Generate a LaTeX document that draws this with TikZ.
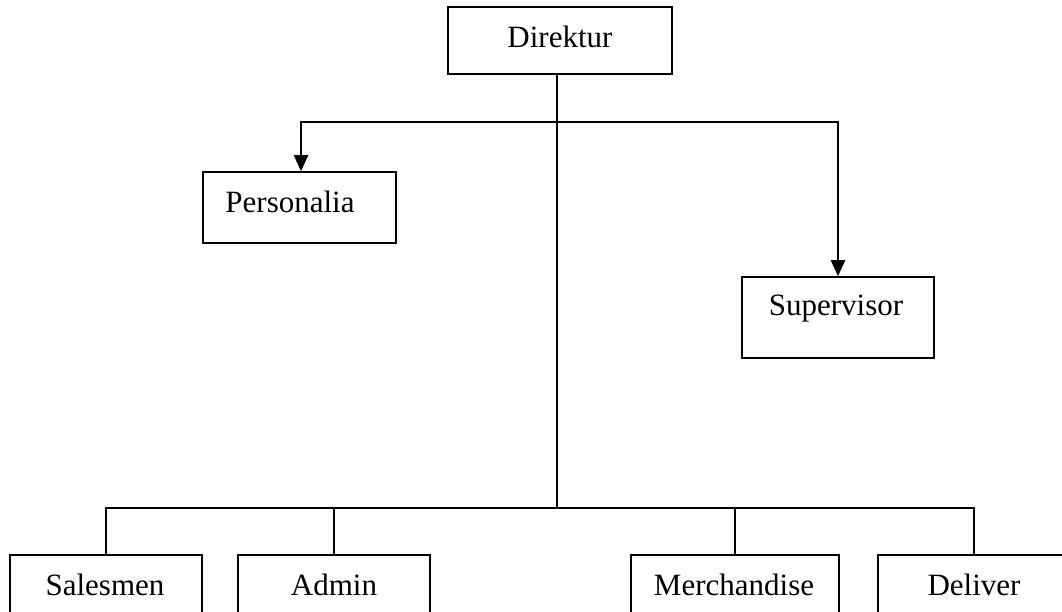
\documentclass[tikz,border=0pt]{standalone}
\usepackage{fontspec}
\setmainfont{Liberation Serif}
\usetikzlibrary{arrows.meta}
\begin{document}
\begin{tikzpicture}[x=1pt,y=-1pt,
  unit/.style={draw=black,line width=1.6pt,rectangle,inner sep=0pt},
  lbl/.style={anchor=base,inner sep=0pt,font=\fontsize{31}{37}\selectfont},
  conn/.style={line width=2.3pt,line cap=rect},
  arr/.style={line width=2.3pt,-{Triangle[length=16pt,width=14pt]}}]
\useasboundingbox (0,0) rectangle (1062,611);
\clip (0,0) rectangle (1062,611);
\fill[white] (0,0) rectangle (1062,611);

% boxes
\node[unit,minimum width=224pt,minimum height=67pt] (dir) at (560,40.5) {};
\node[unit,minimum width=193pt,minimum height=71pt] (pers) at (299.5,207.5) {};
\node[unit,minimum width=192pt,minimum height=81pt] (sup) at (838,317.5) {};
\node[unit,minimum width=192pt,minimum height=70pt] (sales) at (106,590) {};
\node[unit,minimum width=192pt,minimum height=70pt] (admin) at (334,590) {};
\node[unit,minimum width=208pt,minimum height=70pt] (merch) at (735,590) {};
\node[unit,minimum width=192pt,minimum height=70pt] (deliv) at (974,590) {};

% labels
\node[lbl] (tdir) at (560,47) {Direktur};
\node[lbl] (tpers) at (290,212) {Personalia};
\node[lbl] (tsup) at (836,315) {Supervisor};
\node[lbl] (tsales) at (105,595) {Salesmen};
\node[lbl] (tadmin) at (334,595) {Admin};
\node[lbl] (tmerch) at (734,595) {Merchandise};
\node[lbl] (tdeliv) at (974,595) {Deliver};

% bus points
\coordinate (hubTop) at (557,122);
\coordinate (hubBot) at (557,508);

% trunk from Direktur
\draw[conn] (dir.south -| hubTop) -- (hubBot);

% upper branch with arrows
\draw[arr] (hubTop) -| ([xshift=1.5pt]pers.north);
\draw[arr] (hubTop) -| (sup.north);

% lower branch
\draw[conn] (sales.north) -- (sales.north |- hubBot) -- (deliv.north |- hubBot) -- (deliv.north);
\draw[conn] (admin.north) -- (admin.north |- hubBot);
\draw[conn] (merch.north) -- (merch.north |- hubBot);
\end{tikzpicture}
\end{document}
